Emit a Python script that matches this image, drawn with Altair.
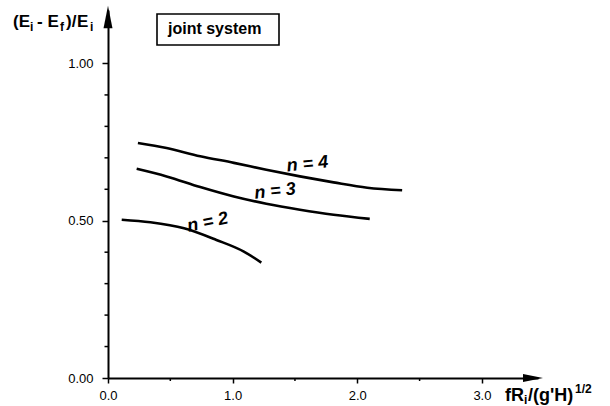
import altair as alt
import pandas as pd

FONT = "Liberation Sans"

# ---- data ----
n4_x = [0.24, 0.47, 0.74, 1.01, 1.27, 1.54, 1.81, 2.08, 2.36]
n4_y = [0.747, 0.731, 0.705, 0.684, 0.662, 0.641, 0.622, 0.605, 0.597]
n3_x = [0.23, 0.47, 0.74, 1.01, 1.27, 1.54, 1.81, 2.10]
n3_y = [0.665, 0.641, 0.607, 0.577, 0.554, 0.535, 0.519, 0.506]
n2_x = [0.11, 0.34, 0.61, 0.87, 1.09, 1.23]
n2_y = [0.503, 0.495, 0.476, 0.439, 0.402, 0.367]

label_text = ["n = 4", "n = 3", "n = 2"]
label_x = [1.60, 1.34, 0.80]
label_y = [0.679, 0.593, 0.494]
label_angle = [354, 354, 348]

x_ticks = [0.0, 1.0, 2.0, 3.0]
x_minor = [0.5, 1.5, 2.5]
y_ticks = [0.0, 0.5, 1.0]
y_minor = [0.1, 0.2, 0.3, 0.4, 0.6, 0.7, 0.8, 0.9]

X_DOMAIN = [0, 3.45]
Y_DOMAIN = [0, 1.17]
W, H = 430, 368

rows = []
for name, xs_, ys_ in [("n4", n4_x, n4_y), ("n3", n3_x, n3_y), ("n2", n2_x, n2_y)]:
    for a, b in zip(xs_, ys_):
        rows.append({"x": a, "y": b, "series": name})
lines_df = pd.DataFrame(rows)
labels_df = pd.DataFrame({"x": label_x, "y": label_y, "t": label_text, "ang": label_angle})

xs = alt.Scale(domain=X_DOMAIN, nice=False, zero=False)
ys = alt.Scale(domain=Y_DOMAIN, nice=False, zero=False)

x_axis = alt.Axis(
    values=x_ticks, format=".1f", title=None, grid=False,
    domainColor="black", domainWidth=2, tickColor="black", tickWidth=1.5,
    tickSize=5, labelFont=FONT, labelFontSize=13, labelColor="black",
    labelPadding=6, labelFlush=False)
y_axis = alt.Axis(
    values=y_ticks, format=".2f", title=None, grid=False,
    domainColor="black", domainWidth=2, tickColor="black", tickWidth=1.5,
    tickSize=6, labelFont=FONT, labelFontSize=13, labelColor="black",
    labelPadding=9, labelFlush=False)

lines = alt.Chart(lines_df).mark_line(
    color="black", strokeWidth=2.6, interpolate="monotone"
).encode(
    x=alt.X("x:Q", scale=xs, axis=x_axis),
    y=alt.Y("y:Q", scale=ys, axis=y_axis),
    detail="series:N",
)

labels = alt.Chart(labels_df).mark_text(
    font=FONT, fontSize=18, fontStyle="italic", fontWeight="bold",
    color="black", align="center", baseline="middle"
).encode(
    x=alt.X("x:Q", scale=xs, axis=x_axis),
    y=alt.Y("y:Q", scale=ys, axis=y_axis),
    text="t:N",
    angle=alt.Angle("ang:Q", scale=None),
)

ymin = alt.Chart(pd.DataFrame({"v": y_minor})).mark_rule(
    color="black", strokeWidth=1.5
).encode(y=alt.Y("v:Q", scale=ys, axis=y_axis), x=alt.value(-3.5), x2=alt.value(0))

xmin = alt.Chart(pd.DataFrame({"v": x_minor})).mark_rule(
    color="black", strokeWidth=1.5
).encode(x=alt.X("v:Q", scale=xs, axis=x_axis), y=alt.value(H), y2=alt.value(H + 3))

one = pd.DataFrame({"a": [0]})

y_arrow = alt.Chart(one).mark_point(
    shape="M0,-1L-0.4,1L0.4,1Z", filled=True, color="black", opacity=1, size=500
).encode(x=alt.value(0), y=alt.value(7))

x_arrow = alt.Chart(one).mark_point(
    shape="M1,0L-1,-0.4L-1,0.4Z", filled=True, color="black", opacity=1, size=400
).encode(x=alt.value(425), y=alt.value(H))


def txt(s, x, y, size, **kw):
    return alt.Chart(one).mark_text(
        text=s, align="left", baseline="alphabetic", font=FONT,
        fontSize=size, fontWeight="bold", color="black", **kw
    ).encode(x=alt.value(x), y=alt.value(y))


title_parts = [
    txt("(E", -95, 17, 17),
    txt("i", -78, 21, 12),
    txt("- E", -71, 17, 17),
    txt("f", -48, 21, 12),
    txt(")/", -42, 17, 17),
    txt("E", -31, 17, 17),
    txt("i", -18, 21, 12),
]

xtitle_parts = [
    txt("fR", 397, 391, 18),
    txt("i", 416, 394, 12),
    txt("/(g'H)", 420, 391, 18),
    txt("1/2", 467, 383, 12),
]

box = alt.Chart(one).mark_rect(
    fill="white", stroke="black", strokeWidth=1.6
).encode(x=alt.value(49), x2=alt.value(171), y=alt.value(4), y2=alt.value(35))

box_text = txt("joint system", 60, 24, 16)

chart = alt.layer(
    lines, labels, ymin, xmin, y_arrow, x_arrow, box, box_text,
    *title_parts, *xtitle_parts
).properties(
    width=W, height=H,
    autosize=alt.AutoSizeParams(type="none"),
    padding={"left": 108, "top": 10, "right": 72, "bottom": 28},
    background="white",
).configure_view(strokeWidth=0)

chart.save("out.html", embed_options={"renderer": "svg", "actions": False})
